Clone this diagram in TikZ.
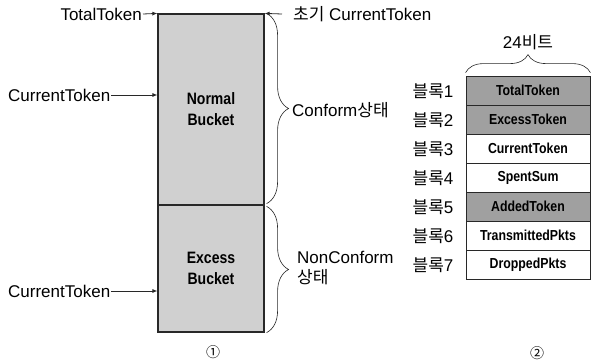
\documentclass[tikz,border=0pt]{standalone}
\usepackage{fontspec}
\setmainfont{Liberation Sans}
\newfontfamily\krfont{Noto Sans CJK KR}
\newfontfamily\narrowfont[FakeStretch=0.85]{Liberation Sans}
\usepackage{tikz}
\usetikzlibrary{arrows.meta,decorations.pathreplacing}
\usepackage{xcolor}
\definecolor{BucketGray}{RGB}{208,208,208}
\definecolor{RowGray}{RGB}{160,160,160}
\definecolor{LineGray}{RGB}{40,40,40}

\begin{document}
\begin{tikzpicture}[x=1pt,y=-1pt,
  lbl/.style={font=\fontsize{17}{20}\selectfont,inner sep=1pt},
  bucket/.style={draw=LineGray,line width=1.2pt,fill=BucketGray,minimum width=106pt,
                 align=center,font=\fontsize{16.5}{21}\narrowfont\bfseries},
  row/.style={draw=LineGray,line width=0.8pt,minimum width=124pt,minimum height=29pt,
              font=\fontsize{14.5}{16}\narrowfont\bfseries},
  dark/.style={row,fill=RowGray},
  light/.style={row,fill=white},
  arr/.style={-{Latex[length=5pt,width=4pt]},line width=0.8pt,LineGray},
  curly/.style={decorate,decoration={brace,amplitude=#1},line width=0.6pt,LineGray},
  num/.style={font=\fontsize{14}{16}\krfont},
]
\useasboundingbox (0,0) rectangle (592,361);
\node[bucket,minimum height=191pt] (normal) at (211,109.5) {Normal\\Bucket};
\node[bucket,minimum height=127pt] (excess) at (211,268.5) {Excess\\Bucket};
\node[lbl,anchor=east] (total) at (143,14) {TotalToken};
\node[lbl,anchor=west] (init) at (292,14) {{\krfont 초기} CurrentToken};
\node[lbl,anchor=west] (cur1) at (7,95) {CurrentToken};
\node[lbl,anchor=west] (cur2) at (7,291) {CurrentToken};
\draw[arr] (total.east) -- (normal.north west);
\draw[arr] ([xshift=-10pt]init.west) -- (normal.north east);
\draw[arr] (cur1.east) -- (cur1.east -| normal.west);
\draw[arr] (cur2.east) -- (cur2.east -| excess.west);
\draw[curly=22pt] ([xshift=2pt]normal.north east) -- ([xshift=2pt,yshift=2pt]normal.south east);
\draw[curly=22pt] ([xshift=2pt,yshift=-2pt]excess.north east) -- ([xshift=2pt]excess.south east);
\node[lbl,anchor=west] (conf) at (291,110) {Conform{\krfont 상태}};
\node[lbl,anchor=west,align=left] (nonconf) at (296,268) {NonConform\\{\krfont 상태}};
\node[dark] (b1) at (528,90.5) {TotalToken};
\node[dark] (b2) at (528,119.5) {ExcessToken};
\node[light] (b3) at (528,148.5) {CurrentToken};
\node[light] (b4) at (528,177.5) {SpentSum};
\node[dark] (b5) at (528,206.5) {AddedToken};
\node[light] (b6) at (528,235.5) {TransmittedPkts};
\node[light] (b7) at (528,264.5) {DroppedPkts};
\node[lbl] (l1) at (433,91) {{\krfont 블록}1};
\node[lbl] (l2) at (433,120) {{\krfont 블록}2};
\node[lbl] (l3) at (433,149) {{\krfont 블록}3};
\node[lbl] (l4) at (433,178) {{\krfont 블록}4};
\node[lbl] (l5) at (433,207) {{\krfont 블록}5};
\node[lbl] (l6) at (433,236) {{\krfont 블록}6};
\node[lbl] (l7) at (433,265) {{\krfont 블록}7};
\draw[curly=18pt] ([yshift=3pt]b1.north west) -- ([yshift=3pt]b1.north east);
\node[lbl] (bits) at (528,42) {24{\krfont 비트}};
\node[num] (n1) at (213,352) {①};
\node[num] (n2) at (537,353) {②};
\end{tikzpicture}
\end{document}
